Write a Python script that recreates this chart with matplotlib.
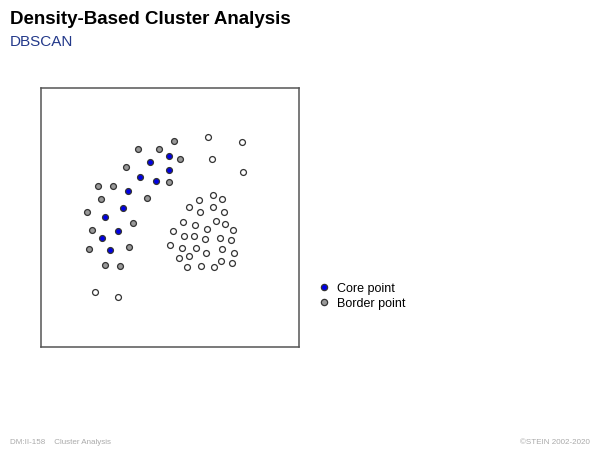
import matplotlib
matplotlib.use("Agg")
import matplotlib.pyplot as plt
from matplotlib.lines import Line2D

plt.rcParams['font.family'] = ['Liberation Sans', 'DejaVu Sans']

# Core points (blue)
core_x = [4.98, 4.23, 4.98, 3.83, 4.48, 3.39, 3.18, 2.49, 2.98, 2.38, 2.68]
core_y = [7.36, 7.15, 6.84, 6.55, 6.40, 6.00, 5.36, 5.01, 4.47, 4.21, 3.72]

# Border points (gray)
border_x = [5.18, 3.78, 4.58, 5.39, 3.29, 4.98, 2.23, 2.78, 4.13, 2.33, 1.79,
            3.58, 1.98, 1.88, 3.43, 2.49, 3.08]
border_y = [7.95, 7.64, 7.64, 7.24, 6.96, 6.35, 6.21, 6.21, 5.76, 5.71, 5.21,
            4.77, 4.52, 3.77, 3.86, 3.16, 3.13]

# Unlabelled points (white)
other_x = [2.09, 2.98, 6.49, 7.79, 6.64, 7.83,
           6.69, 7.04, 6.14, 5.74, 6.68, 6.19, 7.10, 5.53, 6.78, 7.13, 5.98,
           6.45, 7.44, 5.13, 5.54, 5.93, 6.38, 6.94, 7.38, 5.00, 5.48, 6.03,
           7.04, 6.42, 7.50, 5.35, 5.75, 6.98, 7.43, 5.68, 6.23, 6.73]
other_y = [2.12, 1.93, 8.10, 7.90, 7.25, 6.75,
           5.86, 5.71, 5.66, 5.41, 5.41, 5.21, 5.21, 4.82, 4.87, 4.75, 4.71,
           4.56, 4.52, 4.47, 4.26, 4.26, 4.17, 4.21, 4.12, 3.91, 3.82, 3.82,
           3.77, 3.62, 3.62, 3.42, 3.51, 3.32, 3.22, 3.08, 3.13, 3.08]

legend_labels = ['Core point', 'Border point']

fig = plt.figure(figsize=(6, 4.5), dpi=100)
ax = fig.add_axes([0.0683, 0.23, 0.4292, 0.5744])

edge = '#333333'
blue = '#0000e6'
ms = 18
lw = 0.9
ax.scatter(other_x, other_y, s=ms, c='white', edgecolors=edge, linewidths=lw, zorder=3)
ax.scatter(border_x, border_y, s=ms, c='#999999', edgecolors=edge, linewidths=lw, zorder=3)
ax.scatter(core_x, core_y, s=ms, c=blue, edgecolors=edge, linewidths=lw, zorder=3)

ax.set_xlim(0, 10)
ax.set_ylim(0, 10)
ax.set_xticks([])
ax.set_yticks([])
for sp in ax.spines.values():
    sp.set_color('#555555')
    sp.set_linewidth(1.1)

handles = [
    Line2D([], [], marker='o', linestyle='none', markersize=4.5, markerfacecolor=blue,
           markeredgecolor=edge, markeredgewidth=lw),
    Line2D([], [], marker='o', linestyle='none', markersize=4.5, markerfacecolor='#999999',
           markeredgecolor=edge, markeredgewidth=lw),
]
fig.legend(handles, legend_labels, loc='upper left', bbox_to_anchor=(0.532, 0.372),
           frameon=False, fontsize=9, handlelength=0.8, handletextpad=0.6,
           labelspacing=0.25, borderpad=0, borderaxespad=0)

fig.text(0.017, 0.956, 'Density-Based Cluster Analysis', fontsize=13.5, fontweight='bold',
         ha='left', va='center', color='black')
fig.text(0.017, 0.907, 'DBSCAN', fontsize=11, ha='left', va='center', color='#23398a')

fig.text(0.017, 0.016, 'DM:II-158    Cluster Analysis', fontsize=5.8, color='#aaaaaa',
         ha='left', va='center')
fig.text(0.983, 0.016, '\u00a9STEIN 2002-2020', fontsize=5.8, color='#aaaaaa',
         ha='right', va='center')

fig.savefig('out.png', dpi=100)
